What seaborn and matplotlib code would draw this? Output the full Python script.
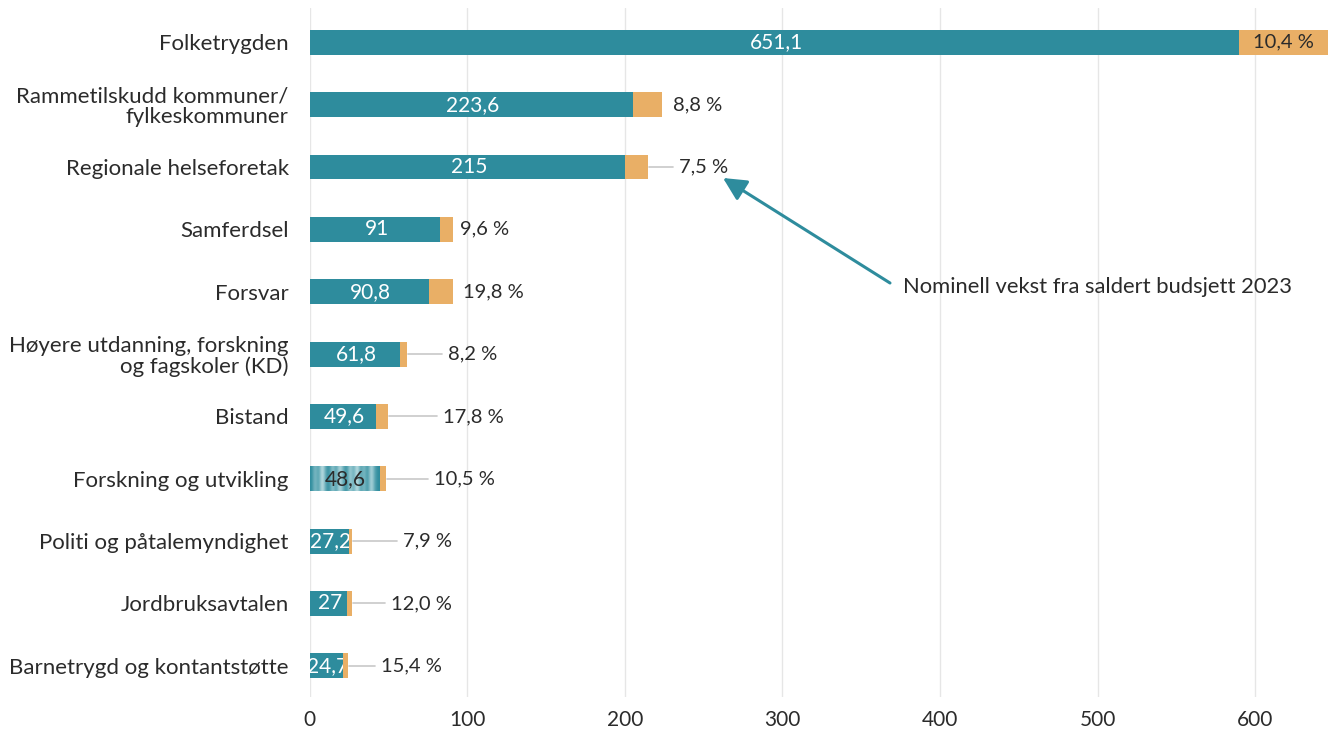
import matplotlib
import matplotlib.pyplot as plt
import numpy as np
import pandas as pd
import seaborn as sns

matplotlib.use("Agg")

# data (billion NOK, budget 2024)
categories = ["Folketrygden",
              "Rammetilskudd kommuner/\nfylkeskommuner",
              "Regionale helseforetak",
              "Samferdsel",
              "Forsvar",
              "Høyere utdanning, forskning\nog fagskoler (KD)",
              "Bistand",
              "Forskning og utvikling",
              "Politi og påtalemyndighet",
              "Jordbruksavtalen",
              "Barnetrygd og kontantstøtte"]
total_values = [651.1, 223.6, 215.0, 91.0, 90.8, 61.8, 49.6, 48.6, 27.2, 27.0, 24.7]
base_values = [589.8, 205.5, 200.0, 83.0, 75.8, 57.1, 42.1, 44.0, 25.2, 24.1, 21.4]
total_labels = ["651,1", "223,6", "215", "91", "90,8", "61,8", "49,6", "48,6", "27,2", "27", "24,7"]
growth_labels = ["10,4 %", "8,8 %", "7,5 %", "9,6 %", "19,8 %", "8,2 %", "17,8 %", "10,5 %",
                 "7,9 %", "12,0 %", "15,4 %"]
annotation_text = "Nominell vekst fra saldert budsjett 2023"

# label offsets (pixels right of the bar end) for the growth labels
label_gap_px = [0, 11, 31, 7, 10, 41, 55, 48, 51, 39, 33]

TEAL = "#2e8c9d"
ORANGE = "#e9af66"
TEXT = "#2b2b2b"

df = pd.DataFrame({"category": categories, "total": total_values, "base": base_values})

sns.set_style("white")
plt.rcParams["font.family"] = ["Lato", "DejaVu Sans"]

fig = plt.figure(figsize=(13.28, 7.29), dpi=100)
ax = fig.add_axes([309.5 / 1328, 32 / 729, 1 - 309.5 / 1328, (697 - 8) / 729])

sns.barplot(data=df, x="total", y="category", color=ORANGE, width=0.4, saturation=1,
            ax=ax, zorder=2)
n = len(categories)
orange_bars = list(ax.patches)
sns.barplot(data=df, x="base", y="category", color=TEAL, width=0.4, saturation=1,
            ax=ax, zorder=3)
teal_bars = list(ax.patches)[n:]

for b in orange_bars + teal_bars:
    b.set_linewidth(0)

xmax = 646
ax.set_xticks(np.arange(0, 700, 100))
ax.xaxis.grid(True, color="#e6e6e6", linewidth=1)
ax.yaxis.grid(False)
ax.set_axisbelow(True)
sns.despine(ax=ax, left=True, bottom=True)
ax.set_xlabel("")
ax.set_ylabel("")
ax.tick_params(axis="y", length=0, pad=15, labelsize=16, labelcolor=TEXT)
ax.tick_params(axis="x", length=0, pad=9, labelsize=15, labelcolor=TEXT)
for lab in ax.get_yticklabels():
    lab.set_linespacing(1.05)

# pixel -> data conversion along x
px_per_unit = (1328 - 309.5) / xmax

# stripe artefact on the "Forskning og utvikling" bar
stripe = np.array([[0.0, 0.5, 0.1, 0.9, 0.2, 0.0, 0.6, 0.1, 0.8, 0.3, 0.0, 0.7, 0.2,
                    0.9, 0.1, 0.5, 0.0, 0.8, 0.2, 0.0]])
cmap = matplotlib.colors.LinearSegmentedColormap.from_list("st", [TEAL, "#dcf0f2"])
im = ax.imshow(stripe, cmap=cmap, aspect="auto", interpolation="bicubic",
               extent=(0, base_values[7], 7 + 0.2, 7 - 0.2), zorder=3.5)
im.set_clip_path(teal_bars[7])
orange_bars[7].set_hatch("|")
orange_bars[7].set_edgecolor("#fbe6c8")
ax.set_xlim(0, xmax)
ax.set_ylim(n - 0.5, -0.55)

for i in range(n):
    # value labels inside the teal segment, cut off at the end of the segment
    t = ax.text(base_values[i] / 2 + 1, i, total_labels[i], ha="center", va="center",
                fontsize=15, color=TEXT if i == 7 else "white", zorder=4, clip_on=True)
    t.set_clip_path(teal_bars[i])

    if i == 0:
        ax.text((base_values[i] + xmax) / 2, i, growth_labels[i], ha="center", va="center",
                fontsize=14.5, color=TEXT, zorder=4)
        continue
    gap = label_gap_px[i] / px_per_unit
    lx = total_values[i] + gap
    if label_gap_px[i] > 20:
        ax.plot([total_values[i] + 1 / px_per_unit, lx - 6 / px_per_unit], [i, i],
                color="#c8c8c8", linewidth=1.2, zorder=1.5)
    ax.text(lx, i, growth_labels[i], ha="left", va="center", fontsize=14.5, color=TEXT)

# annotation: arrow pointing at the growth labels
fig.text(903 / 1328, 1 - 287 / 729, annotation_text, ha="left", va="center",
         fontsize=15.8, color=TEXT)
ax.annotate("", xy=(723, 729 - 178), xycoords="figure pixels",
            xytext=(890, 729 - 283), textcoords="figure pixels",
            arrowprops=dict(arrowstyle="-|>,head_length=1.4,head_width=0.7",
                            color=TEAL, linewidth=2.2, shrinkA=0, shrinkB=0))

fig.savefig("out.png", dpi=100)
